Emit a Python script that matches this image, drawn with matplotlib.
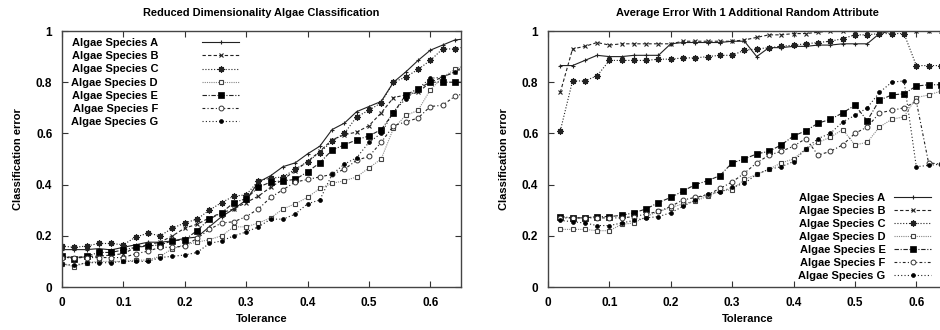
import matplotlib

matplotlib.use("Agg")
import matplotlib.pyplot as plt

plt.rcParams["font.family"] = ["Liberation Sans", "DejaVu Sans"]
plt.rcParams["font.weight"] = "bold"

species = ["Algae Species A", "Algae Species B", "Algae Species C", "Algae Species D",
           "Algae Species E", "Algae Species F", "Algae Species G"]

# left panel: tolerance 0 .. 0.66 step 0.02
tol_left = [0.0, 0.02, 0.04, 0.06, 0.08, 0.10, 0.12, 0.14, 0.16, 0.18, 0.20, 0.22,
            0.24, 0.26, 0.28, 0.30, 0.32, 0.34, 0.36, 0.38, 0.40, 0.42, 0.44, 0.46,
            0.48, 0.50, 0.52, 0.54, 0.56, 0.58, 0.60, 0.62, 0.64, 0.66]
left_a = [0.146, 0.146, 0.146, 0.15, 0.145, 0.155, 0.165, 0.175, 0.175, 0.18, 0.19, 0.195,
          0.235, 0.275, 0.305, 0.34, 0.41, 0.435, 0.47, 0.485, 0.52, 0.55, 0.615, 0.64,
          0.685, 0.705, 0.725, 0.80, 0.84, 0.885, 0.925, 0.945, 0.965, 0.97]
left_b = [0.12, 0.115, 0.12, 0.12, 0.125, 0.13, 0.155, 0.165, 0.175, 0.2, 0.23, 0.245,
          0.27, 0.29, 0.305, 0.33, 0.355, 0.39, 0.42, 0.455, 0.49, 0.53, 0.575, 0.595,
          0.605, 0.63, 0.68, 0.74, 0.75, 0.76, 0.8, 0.82, 0.84, 0.87]
left_c = [0.16, 0.155, 0.16, 0.17, 0.17, 0.165, 0.195, 0.21, 0.2, 0.23, 0.25, 0.265,
          0.3, 0.33, 0.355, 0.36, 0.415, 0.425, 0.43, 0.46, 0.49, 0.525, 0.57, 0.6,
          0.665, 0.69, 0.72, 0.80, 0.82, 0.85, 0.885, 0.93, 0.93, 0.94]
left_d = [0.09, 0.08, 0.095, 0.1, 0.1, 0.1, 0.105, 0.105, 0.12, 0.15, 0.165, 0.175,
          0.185, 0.2, 0.235, 0.235, 0.25, 0.27, 0.305, 0.325, 0.35, 0.385, 0.405, 0.415,
          0.43, 0.465, 0.5, 0.62, 0.67, 0.69, 0.77, 0.82, 0.85, 0.87]
left_e = [0.12, 0.11, 0.12, 0.135, 0.135, 0.145, 0.155, 0.16, 0.165, 0.18, 0.185, 0.22,
          0.265, 0.29, 0.33, 0.345, 0.39, 0.41, 0.415, 0.42, 0.45, 0.485, 0.535, 0.555,
          0.575, 0.59, 0.615, 0.68, 0.75, 0.775, 0.8, 0.8, 0.8, 0.8]
left_f = [0.115, 0.115, 0.115, 0.115, 0.115, 0.115, 0.13, 0.14, 0.155, 0.155, 0.16, 0.19,
          0.225, 0.25, 0.255, 0.275, 0.305, 0.35, 0.38, 0.41, 0.42, 0.43, 0.44, 0.46,
          0.495, 0.51, 0.565, 0.63, 0.645, 0.66, 0.705, 0.71, 0.745, 0.76]
left_g = [0.09, 0.085, 0.095, 0.095, 0.095, 0.1, 0.1, 0.1, 0.115, 0.12, 0.125, 0.135,
          0.17, 0.18, 0.2, 0.215, 0.235, 0.265, 0.265, 0.285, 0.325, 0.34, 0.44, 0.48,
          0.505, 0.565, 0.6, 0.685, 0.735, 0.775, 0.815, 0.82, 0.84, 0.86]

# right panel: tolerance 0.02 .. 0.64
tol_right = [0.02, 0.04, 0.06, 0.08, 0.10, 0.12, 0.14, 0.16, 0.18, 0.20, 0.22, 0.24,
             0.26, 0.28, 0.30, 0.32, 0.34, 0.36, 0.38, 0.40, 0.42, 0.44, 0.46, 0.48,
             0.50, 0.52, 0.54, 0.56, 0.58, 0.60, 0.62, 0.64]
right_a = [0.865, 0.865, 0.885, 0.905, 0.9, 0.9, 0.905, 0.905, 0.905, 0.95, 0.955, 0.955,
           0.955, 0.955, 0.96, 0.96, 0.9, 0.935, 0.935, 0.94, 0.94, 0.945, 0.945, 0.95,
           0.95, 0.95, 0.99, 1.0, 1.0, 1.0, 1.0, 1.0]
right_b = [0.76, 0.93, 0.94, 0.955, 0.945, 0.95, 0.95, 0.95, 0.95, 0.95, 0.96, 0.96,
           0.96, 0.96, 0.96, 0.965, 0.975, 0.985, 0.985, 0.99, 0.99, 0.995, 1.0, 1.0,
           1.0, 1.0, 1.0, 1.0, 1.0, 1.0, 1.0, 1.0]
right_c = [0.61, 0.805, 0.805, 0.825, 0.885, 0.885, 0.885, 0.885, 0.89, 0.89, 0.895, 0.895,
           0.9, 0.905, 0.905, 0.925, 0.93, 0.935, 0.94, 0.945, 0.95, 0.955, 0.96, 0.97,
           0.985, 0.985, 0.99, 0.99, 0.99, 0.865, 0.865, 0.865]
right_d = [0.225, 0.225, 0.225, 0.22, 0.22, 0.245, 0.25, 0.275, 0.295, 0.31, 0.325, 0.335,
           0.355, 0.375, 0.38, 0.42, 0.44, 0.46, 0.485, 0.5, 0.54, 0.565, 0.585, 0.615,
           0.555, 0.565, 0.625, 0.655, 0.665, 0.74, 0.75, 0.765]
right_e = [0.275, 0.27, 0.27, 0.275, 0.275, 0.28, 0.29, 0.305, 0.33, 0.35, 0.375, 0.4,
           0.415, 0.435, 0.485, 0.5, 0.52, 0.53, 0.555, 0.59, 0.61, 0.64, 0.655, 0.68,
           0.71, 0.65, 0.73, 0.75, 0.755, 0.785, 0.79, 0.79]
right_f = [0.27, 0.27, 0.27, 0.27, 0.27, 0.27, 0.275, 0.285, 0.295, 0.315, 0.34, 0.35,
           0.36, 0.385, 0.41, 0.445, 0.485, 0.515, 0.53, 0.55, 0.58, 0.515, 0.53, 0.555,
           0.6, 0.625, 0.68, 0.69, 0.7, 0.725, 0.485, 0.48]
right_g = [0.26, 0.255, 0.25, 0.24, 0.24, 0.25, 0.26, 0.27, 0.275, 0.29, 0.315, 0.34,
           0.365, 0.37, 0.39, 0.405, 0.44, 0.46, 0.47, 0.49, 0.54, 0.58, 0.6, 0.645,
           0.67, 0.7, 0.76, 0.8, 0.805, 0.47, 0.475, 0.48]

x_ticks = [0, 0.1, 0.2, 0.3, 0.4, 0.5, 0.6]
x_ticklabels = ["0", "0.1", "0.2", "0.3", "0.4", "0.5", "0.6"]
y_ticks = [0, 0.2, 0.4, 0.6, 0.8, 1.0]
y_ticklabels = ["0", "0.2", "0.4", "0.6", "0.8", "1"]

# gnuplot-ish line / point styles
styles = [
    dict(color="#222222", ls="-", marker="+", ms=3.5, mew=0.8),
    dict(color="#222222", ls=(0, (3, 2)), marker="x", ms=3, mew=0.8),
    dict(color="#222222", ls=(0, (1, 1.6)), marker=(8, 2, 0), ms=4.5, mew=0.9),
    dict(color="#888888", ls=(0, (1, 1)), marker="s", ms=3.5, mew=0.8,
         mfc="white", mec="#444444"),
    dict(color="#222222", ls=(0, (4, 1.5, 1, 1.5)), marker="s", ms=4, mew=0.5,
         mfc="black", mec="black"),
    dict(color="#222222", ls=(0, (2.5, 2, 1, 2)), marker="o", ms=3.5, mew=0.7,
         mfc="white", mec="#333333"),
    dict(color="#222222", ls=(0, (1, 2)), marker="o", ms=2.8, mew=0.5,
         mfc="black", mec="black"),
]

fig = plt.figure(figsize=(9.4, 3.3), dpi=100)
ax_l = fig.add_axes([62 / 940, 43 / 330, 399 / 940, 256 / 330])
ax_r = fig.add_axes([548 / 940, 43 / 330, 399 / 940, 256 / 330])

left_series = [left_a, left_b, left_c, left_d, left_e, left_f, left_g]
right_series = [right_a, right_b, right_c, right_d, right_e, right_f, right_g]

for name, ys, st in zip(species, left_series, styles):
    ax_l.plot(tol_left, ys, lw=0.8, label=name, **st)
for name, ys, st in zip(species, right_series, styles):
    ax_r.plot(tol_right, ys, lw=0.8, label=name, **st)

for ax, title in [(ax_l, "Reduced Dimensionality Algae Classification"),
                  (ax_r, "Average Error With 1 Additional Random Attribute")]:
    ax.set_xlim(0, 0.65)
    ax.set_ylim(0, 1)
    ax.set_xticks(x_ticks)
    ax.set_xticklabels(x_ticklabels)
    ax.set_yticks(y_ticks)
    ax.set_yticklabels(y_ticklabels)
    ax.tick_params(direction="in", top=True, right=True, length=4, width=0.8,
                   labelsize=8.5, colors="#333333", labelcolor="black", pad=7)
    for sp in ax.spines.values():
        sp.set_color("#444444")
        sp.set_linewidth(1.0)
    ax.set_xlabel("Tolerance", fontsize=8, fontweight="bold", labelpad=4)
    ax.set_ylabel("Classification error", fontsize=8, fontweight="bold", labelpad=9)
    ax.set_title(title, fontsize=7.9, fontweight="bold", pad=11)

leg_kw = dict(frameon=False, markerfirst=False, fontsize=8, labelspacing=0.28,
              handlelength=3.3, borderpad=0.0, borderaxespad=0.0)
leg_l = ax_l.legend(loc="upper left", bbox_to_anchor=(0.022, 0.972),
                    handletextpad=4.0, **leg_kw)
leg_r = ax_r.legend(loc="lower right", bbox_to_anchor=(0.96, 0.022),
                    handletextpad=0.8, **leg_kw)

fig.savefig("out.png", dpi=100)
